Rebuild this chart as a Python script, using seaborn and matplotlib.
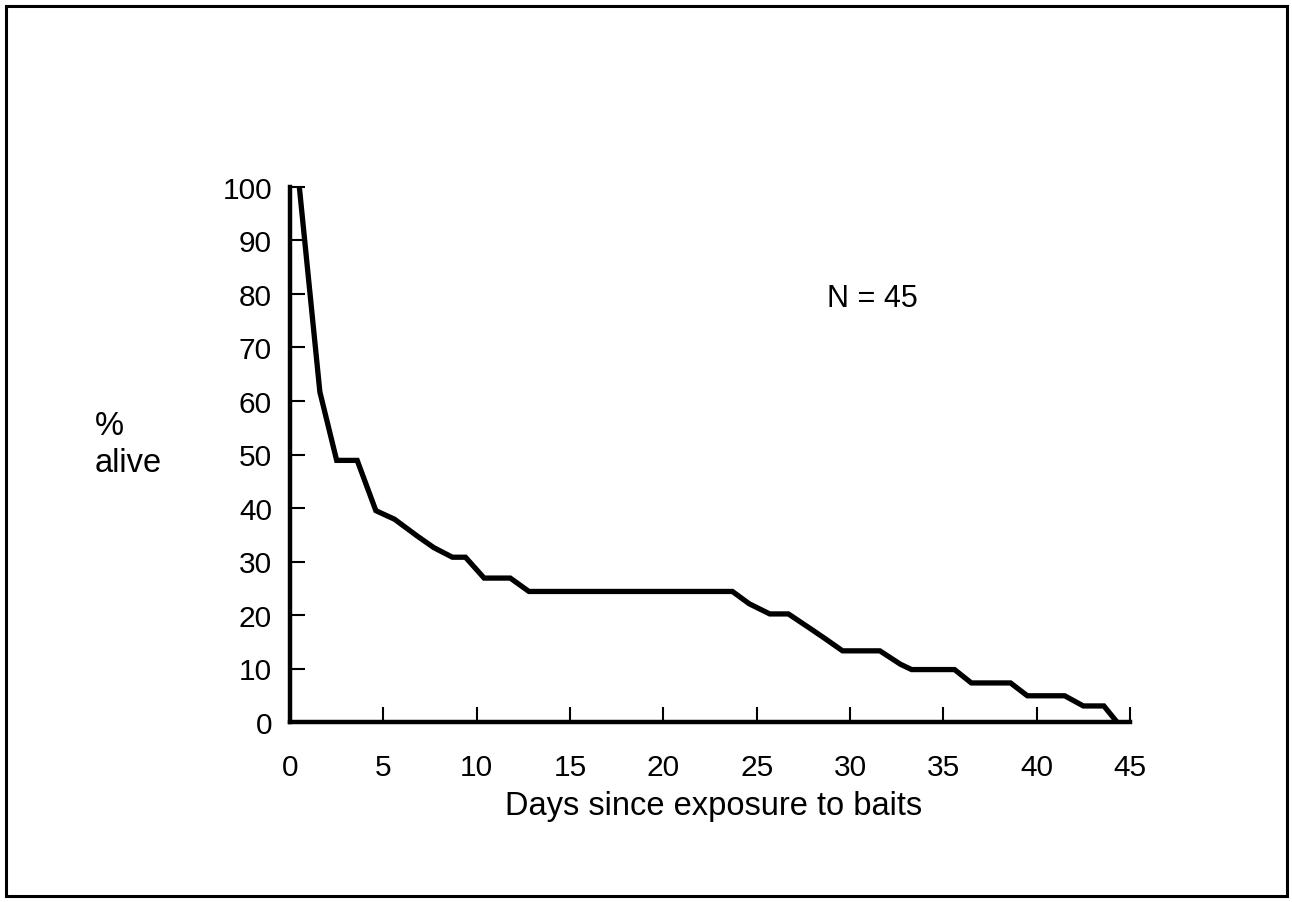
import matplotlib
matplotlib.use("Agg")
import matplotlib.pyplot as plt
import seaborn as sns
import pandas as pd
from matplotlib.patches import Rectangle

# survival curve (N = 45)
days = [0.5, 1.6, 2.5, 3.6, 4.6, 5.6, 6.8, 7.7, 8.7, 9.4, 10.4, 11.8, 12.8,
        23.7, 24.6, 25.7, 26.7, 27.9, 28.7, 29.6, 31.6, 32.7, 33.3, 35.6,
        36.5, 38.6, 39.5, 41.5, 42.5, 43.6, 44.3]
pct_alive = [100, 61.7, 48.9, 48.9, 39.5, 37.9, 34.8, 32.6, 30.8, 30.8, 26.9,
             26.9, 24.4, 24.4, 22.1, 20.2, 20.2, 17.4, 15.5, 13.3, 13.3, 10.8,
             9.8, 9.8, 7.3, 7.3, 4.9, 4.9, 3.0, 3.0, 0]
x_ticks = list(range(0, 50, 5))
y_ticks = list(range(0, 110, 10))

df = pd.DataFrame({"day": days, "alive": pct_alive})

sns.set_style("ticks")
plt.rcParams["font.family"] = ["Liberation Sans", "DejaVu Sans"]
plt.rcParams["text.color"] = "black"

fig = plt.figure(figsize=(12.92, 9.03), dpi=100)
ax = fig.add_axes([290 / 1292, 1 - 723 / 903, 840 / 1292, 535 / 903])

sns.lineplot(data=df, x="day", y="alive", ax=ax, color="black", linewidth=3.8,
             estimator=None, sort=False, solid_joinstyle="miter")

ax.set_xlim(0, 45)
ax.set_ylim(0, 100)
ax.set_xticks(x_ticks)
ax.set_yticks(y_ticks)
ax.tick_params(axis="both", direction="in", length=11, width=1.5,
               labelsize=21.5, colors="black")
ax.tick_params(axis="x", pad=22)
ax.tick_params(axis="y", pad=13)
for lab in ax.get_xticklabels() + ax.get_yticklabels():
    lab.set_fontweight("medium")

sns.despine(ax=ax)
for side in ["left", "bottom"]:
    ax.spines[side].set_linewidth(3.2)
    ax.spines[side].set_color("black")
    ax.spines[side].set_capstyle("projecting")

ax.set_xlabel("")
ax.set_ylabel("")
fig.text(714 / 1292, 1 - 807 / 903, "Days since exposure to baits",
         ha="center", va="center", fontsize=23.5, color="black")
fig.text(95 / 1292, 1 - 445 / 903, "%\nalive", ha="left", va="center",
         fontsize=23.5, linespacing=1.25, color="black")
fig.text(872 / 1292, 1 - 299 / 903, "N = 45", ha="center", va="center",
         fontsize=22, color="black")

# outer frame of the scanned figure
fig.patches.append(Rectangle((6 / 1292, 1 - 897 / 903), 1281 / 1292, 890 / 903,
                             transform=fig.transFigure, fill=False,
                             edgecolor="black", linewidth=2.2))

fig.savefig("out.png", dpi=100)
